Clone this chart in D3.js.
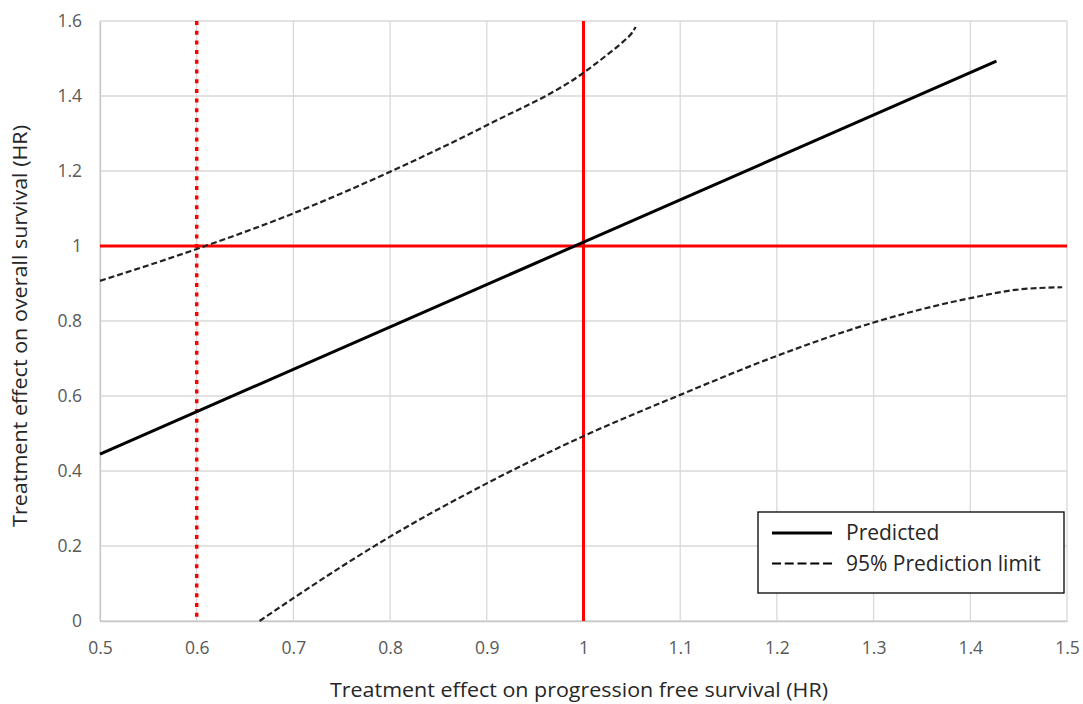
<!DOCTYPE html>
<html>
<head>
<meta charset="utf-8">
<script src="https://cdn.jsdelivr.net/npm/d3@7"></script>
<style>
  body { margin: 0; background: #fff; }
  text { font-family: "Open Sans", "Noto Sans", sans-serif; }
</style>
</head>
<body>
<div id="chart"></div>
<script>
// tick values
var xTicks = [0.5, 0.6, 0.7, 0.8, 0.9, 1.0, 1.1, 1.2, 1.3, 1.4, 1.5];
var yTicks = [0, 0.2, 0.4, 0.6, 0.8, 1.0, 1.2, 1.4, 1.6];

// predicted line (PFS HR -> OS HR)
var predX = [0.5, 1.427];
var predY = [0.445, 1.493];

// upper 95% prediction limit
var upperX = [0.5, 0.6, 0.7, 0.8, 0.9, 1.0, 1.024, 1.041, 1.05, 1.054];
var upperY = [0.907, 0.992, 1.087, 1.198, 1.322, 1.462, 1.509, 1.545, 1.568, 1.584];

// lower 95% prediction limit
var lowerX = [0.665, 0.7, 0.8, 0.9, 1.0, 1.1, 1.2, 1.3, 1.4, 1.45, 1.495];
var lowerY = [0, 0.061, 0.225, 0.367, 0.493, 0.603, 0.707, 0.796, 0.861, 0.884, 0.890];

// red reference lines
var refSolidX = 1.0;
var refDottedX = 0.6;
var refY = 1.0;

var legendLabels = ["Predicted", "95% Prediction limit"];

//svg area
var svgWidth = 1083;
var svgHeight = 704;

var chartMargin = { top: 21, right: 16, bottom: 83, left: 100 };
var chartWidth = svgWidth - chartMargin.left - chartMargin.right;
var chartHeight = svgHeight - chartMargin.top - chartMargin.bottom;

var svg = d3.select("#chart")
    .append("svg")
    .attr("width", svgWidth)
    .attr("height", svgHeight);

var chartGroup = svg.append("g")
    .attr("transform", `translate(${chartMargin.left}, ${chartMargin.top})`);

var x = d3.scaleLinear().domain([0.5, 1.5]).range([0, chartWidth]);
var y = d3.scaleLinear().domain([0, 1.6]).range([chartHeight, 0]);

function fmt(v) {
    return d3.format(".1f")(v).replace(/\.0$/, "");
}

// gridlines
chartGroup.append("g")
    .selectAll("line")
    .data(yTicks)
    .enter()
    .append("line")
    .attr("x1", 0).attr("x2", chartWidth)
    .attr("y1", d => y(d)).attr("y2", d => y(d))
    .attr("stroke", "#d9d9d9")
    .attr("stroke-width", 1.3);

chartGroup.append("g")
    .selectAll("line")
    .data(xTicks)
    .enter()
    .append("line")
    .attr("x1", d => x(d)).attr("x2", d => x(d))
    .attr("y1", 0).attr("y2", chartHeight)
    .attr("stroke", "#d9d9d9")
    .attr("stroke-width", 1.3);

// axes
var bottomAxis = d3.axisBottom(x).tickValues(xTicks).tickFormat(fmt).tickSize(0).tickPadding(21);
var leftAxis = d3.axisLeft(y).tickValues(yTicks).tickFormat(fmt).tickSize(0).tickPadding(18);

var xAxisG = chartGroup.append("g")
    .attr("transform", `translate(0, ${chartHeight})`)
    .call(bottomAxis);
var yAxisG = chartGroup.append("g").call(leftAxis);

[xAxisG, yAxisG].forEach(function (g) {
    g.select(".domain").attr("stroke", "#c8c8c8").attr("stroke-width", 1.3);
    g.selectAll("text")
        .attr("fill", "#595959")
        .style("font-size", "17.5px")
        .style("font-family", "'Open Sans', sans-serif");
});

// red reference lines
chartGroup.append("line")
    .attr("x1", x(0.5)).attr("x2", x(1.5))
    .attr("y1", y(refY)).attr("y2", y(refY))
    .attr("stroke", "#ff0000")
    .attr("stroke-width", 3);

chartGroup.append("line")
    .attr("x1", x(refSolidX)).attr("x2", x(refSolidX))
    .attr("y1", y(1.6)).attr("y2", y(0))
    .attr("stroke", "#ff0000")
    .attr("stroke-width", 3);

chartGroup.append("line")
    .attr("x1", x(refDottedX)).attr("x2", x(refDottedX))
    .attr("y1", y(1.6)).attr("y2", y(0))
    .attr("stroke", "#ff0000")
    .attr("stroke-width", 3.5)
    .attr("stroke-dasharray", "4,5.7");

// curves
var line = d3.line()
    .x(d => x(d[0]))
    .y(d => y(d[1]))
    .curve(d3.curveMonotoneX);

chartGroup.append("path")
    .datum(d3.zip(upperX, upperY))
    .attr("d", line)
    .attr("fill", "none")
    .attr("stroke", "#222")
    .attr("stroke-width", 2.2)
    .attr("stroke-dasharray", "6,3");

chartGroup.append("path")
    .datum(d3.zip(lowerX, lowerY))
    .attr("d", line)
    .attr("fill", "none")
    .attr("stroke", "#222")
    .attr("stroke-width", 2.2)
    .attr("stroke-dasharray", "6,3");

chartGroup.append("path")
    .datum(d3.zip(predX, predY))
    .attr("d", d3.line().x(d => x(d[0])).y(d => y(d[1])))
    .attr("fill", "none")
    .attr("stroke", "#000")
    .attr("stroke-width", 3);

// legend
var legend = svg.append("g").attr("transform", "translate(758, 512)");
legend.append("rect")
    .attr("width", 306).attr("height", 81)
    .attr("fill", "#fff")
    .attr("stroke", "#000")
    .attr("stroke-width", 1.3);

var legendItems = legend.selectAll(".item")
    .data(legendLabels)
    .enter()
    .append("g")
    .attr("class", "item")
    .attr("transform", (d, i) => `translate(0, ${21 + i * 30.5})`);

legendItems.append("line")
    .attr("x1", 14).attr("x2", 74)
    .attr("stroke", "#000")
    .attr("stroke-width", (d, i) => i === 0 ? 3 : 2.2)
    .attr("stroke-dasharray", (d, i) => i === 0 ? null : "9,3.75");

legendItems.append("text")
    .attr("x", 88)
    .attr("dy", "0.35em")
    .attr("fill", "#262626")
    .style("font-size", "21px")
    .text(d => d);

// axis titles
svg.append("text")
    .attr("x", 579)
    .attr("y", 697)
    .attr("text-anchor", "middle")
    .attr("fill", "#262626")
    .style("font-size", "19.5px")
    .attr("textLength", 498)
    .attr("lengthAdjust", "spacingAndGlyphs")
    .text("Treatment effect on progression free survival (HR)");

svg.append("text")
    .attr("transform", "translate(27, 326) rotate(-90)")
    .attr("text-anchor", "middle")
    .attr("fill", "#262626")
    .style("font-size", "19.5px")
    .attr("textLength", 402)
    .attr("lengthAdjust", "spacingAndGlyphs")
    .text("Treatment effect on overall survival (HR)");
</script>
</body>
</html>
